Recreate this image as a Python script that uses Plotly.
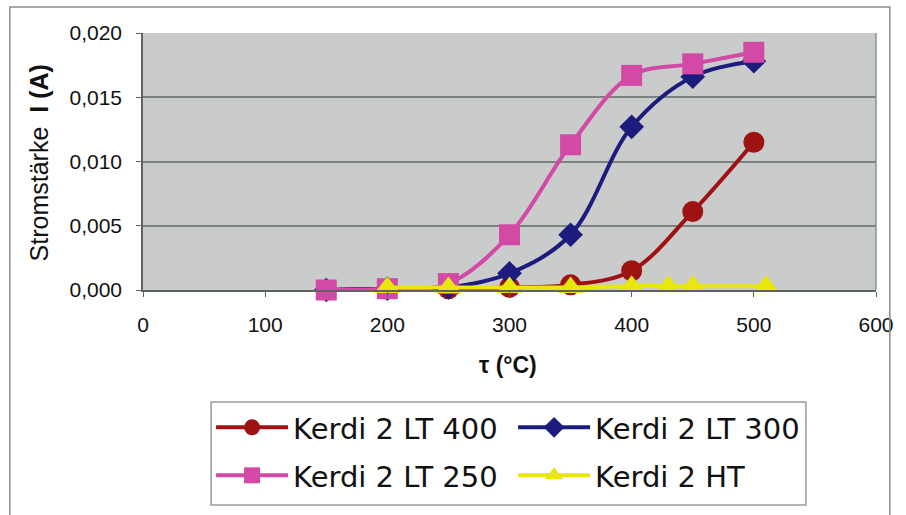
import plotly.graph_objects as go

# --- data ---
temp_lt400 = [150, 200, 250, 300, 350, 400, 450, 500]
curr_lt400 = [0.0000, 0.0001, 0.0001, 0.0002, 0.0004, 0.0015, 0.0061, 0.0115]

temp_lt300 = [150, 200, 250, 300, 350, 400, 450, 500]
curr_lt300 = [0.0000, 0.0001, 0.0002, 0.0013, 0.0043, 0.0127, 0.0166, 0.0178]

temp_lt250 = [150, 200, 250, 300, 350, 400, 450, 500]
curr_lt250 = [0.0000, 0.0001, 0.0005, 0.0043, 0.0113, 0.0167, 0.0176, 0.0185]

temp_ht = [200, 250, 300, 350, 400, 430, 450, 510]
curr_ht = [0.0002, 0.0002, 0.0002, 0.0002, 0.0003, 0.0003, 0.0003, 0.0003]

series_names = ["Kerdi 2 LT 400", "Kerdi 2 LT 300", "Kerdi 2 LT 250", "Kerdi 2 HT"]

x_ticks = [0, 100, 200, 300, 400, 500, 600]
y_ticks = [0.000, 0.005, 0.010, 0.015, 0.020]

fig = go.Figure()

styles = [
    (temp_lt400, curr_lt400, "#9e1212", "circle", 21, "legend"),
    (temp_lt300, curr_lt300, "#1c1c7e", "diamond", 19, "legend"),
    (temp_lt250, curr_lt250, "#d24aa6", "square", 21, "legend2"),
    (temp_ht, curr_ht, "#e8e60c", "triangle-up", 22, "legend2"),
]
for (xs, ys, col, sym, sz, lg), name in zip(styles, series_names):
    fig.add_trace(go.Scatter(
        x=xs, y=ys, name=name, mode="lines+markers",
        line=dict(color=col, width=4, shape="spline"),
        marker=dict(color=col, symbol=sym, size=sz, line=dict(width=0)),
        cliponaxis=False, legend=lg,
    ))

W, H = 906, 515
L, R, T, B = 143, 20, 33, 225
pw, ph = W - L - R, H - T - B

def px(xp):
    return (xp - L) / pw

def py(yp):
    return (H - B - yp) / ph

legend_common = dict(
    orientation="h", xanchor="left", yanchor="top",
    bgcolor="rgba(0,0,0,0)", borderwidth=0,
    font=dict(size=29, family="DejaVu Sans, sans-serif", color="#111111"),
    itemwidth=72, entrywidth=215, entrywidthmode="pixels",
    traceorder="normal", itemclick=False,
)

fig.update_layout(
    width=W, height=H,
    margin=dict(l=L, r=R, t=T, b=B, pad=0),
    paper_bgcolor="white",
    plot_bgcolor="#cacbcb",
    separators=",.",
    font=dict(family="Liberation Sans, Arial, sans-serif", color="#111111"),
    showlegend=True,
    legend=dict(x=px(212), y=py(402), **legend_common),
    legend2=dict(x=px(212), y=py(450), **legend_common),
    xaxis=dict(
        range=[0, 600], tickvals=x_ticks, ticktext=[str(v) for v in x_ticks],
        showgrid=False, zeroline=False,
        showline=True, linecolor="#5d6464", linewidth=1.5, mirror=False,
        ticks="outside", ticklen=5, tickcolor="#5d6464",
        tickfont=dict(size=21), ticklabelstandoff=10,
        fixedrange=True,
    ),
    yaxis=dict(
        range=[0, 0.02], tickvals=y_ticks, tickformat=".3f",
        showgrid=True, gridcolor="#7b8282", gridwidth=1.5, zeroline=False,
        showline=True, linecolor="#5d6464", linewidth=1.5,
        ticks="outside", ticklen=5, tickcolor="#5d6464",
        tickfont=dict(size=21), ticklabelstandoff=10,
        fixedrange=True,
    ),
    shapes=[
        # right frame of plot area
        dict(type="line", xref="paper", yref="paper", x0=1, x1=1, y0=0, y1=1,
             line=dict(color="#8a9090", width=1.5)),
        # outer border of the chart
        dict(type="rect", xref="paper", yref="paper",
             x0=px(8), x1=px(900), y0=py(530), y1=py(7),
             line=dict(color="#8c8c8c", width=1.5)),
        # legend box
        dict(type="rect", xref="paper", yref="paper",
             x0=px(212), x1=px(815), y0=py(505), y1=py(402),
             line=dict(color="#9a9a9a", width=1.5)),
    ],
    annotations=[
        dict(text="Stromstärke  <b>I (A)</b>", xref="paper", yref="paper",
             x=px(38), y=py(163), xanchor="center", yanchor="middle",
             textangle=-90, showarrow=False, font=dict(size=25)),
        dict(text="<b>τ (°C)</b>", xref="paper", yref="paper",
             x=px(513), y=py(365), xanchor="center", yanchor="middle",
             showarrow=False, font=dict(size=23)),
    ],
)

fig.write_html("out.html")
